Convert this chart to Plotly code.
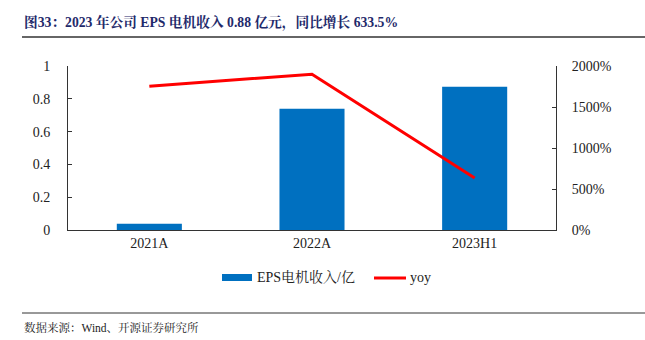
import plotly.graph_objects as go

categories = ["2021A", "2022A", "2023H1"]
revenue = [0.038, 0.74, 0.874]
yoy = [1753, 1900, 633.5]
left_ticks = [0, 0.2, 0.4, 0.6, 0.8, 1]
left_labels = ["0", "0.2", "0.4", "0.6", "0.8", "1"]
right_ticks = [0, 500, 1000, 1500, 2000]
right_labels = ["0%", "500%", "1000%", "1500%", "2000%"]

W, H = 645, 340
L, R, T, B = 68, 556, 66, 230
pw, ph = R - L, B - T

def px(x):
    return (x - L) / pw

def py(y):
    return (B - y) / ph

font = "Liberation Serif, Times New Roman, Noto Serif CJK SC, Noto Sans CJK SC, serif"
bar_color = "#0070C0"
line_color = "#FF0000"

fig = go.Figure()
fig.add_trace(go.Bar(x=categories, y=revenue, name="EPS电机收入/亿",
                     marker=dict(color=bar_color, line=dict(width=0)), width=0.40))
fig.add_trace(go.Scatter(x=categories, y=yoy, name="yoy", yaxis="y2", mode="lines",
                         line=dict(color=line_color, width=3)))

fig.update_layout(
    width=W, height=H,
    margin=dict(l=L, r=W - R, t=T, b=H - B, pad=0),
    paper_bgcolor="white", plot_bgcolor="white",
    font=dict(family=font, size=14, color="#222222"),
    showlegend=False,
    xaxis=dict(showline=True, linecolor="#333333", linewidth=1, ticks="", showgrid=False,
               tickfont=dict(size=14), zeroline=False),
    yaxis=dict(range=[0, 1], tickvals=left_ticks, ticktext=left_labels, tickfont=dict(size=14),
               showline=True, linecolor="#333333", linewidth=1, ticks="inside", ticklen=4,
               tickcolor="#333333", showgrid=False, zeroline=False, ticklabelstandoff=14),
    yaxis2=dict(range=[0, 2000], tickvals=right_ticks, ticktext=right_labels, tickfont=dict(size=14),
                overlaying="y", side="right", showline=True, linecolor="#333333", linewidth=1,
                ticks="inside", ticklen=4, tickcolor="#333333", showgrid=False, zeroline=False,
                ticklabelstandoff=12),
    shapes=[
        dict(type="line", xref="paper", yref="paper", x0=px(22), x1=px(645), y0=py(37), y1=py(37),
             line=dict(color="#333333", width=1.5)),
        dict(type="line", xref="paper", yref="paper", x0=px(22), x1=px(645), y0=py(313), y1=py(313),
             line=dict(color="#333333", width=1)),
        # legend symbols
        dict(type="rect", xref="paper", yref="paper", x0=px(222), x1=px(252), y0=py(281), y1=py(274),
             fillcolor=bar_color, line=dict(width=0)),
        dict(type="line", xref="paper", yref="paper", x0=px(374), x1=px(406), y0=py(278), y1=py(278),
             line=dict(color=line_color, width=3)),
    ],
    annotations=[
        dict(text="<b>图33：2023 年公司 EPS 电机收入 0.88 亿元，同比增长 633.5%</b>", xref="paper", yref="paper",
             x=px(22), y=py(22), xanchor="left", yanchor="middle", showarrow=False,
             font=dict(size=13.7, color="#1F2A6B", family=font)),
        dict(text="数据来源：Wind、开源证券研究所", xref="paper", yref="paper",
             x=px(22), y=py(327), xanchor="left", yanchor="middle", showarrow=False,
             font=dict(size=11.5, color="#222222", family=font)),
        dict(text="EPS电机收入/亿", xref="paper", yref="paper",
             x=px(255), y=py(277), xanchor="left", yanchor="middle", showarrow=False,
             font=dict(size=14, color="#222222", family=font)),
        dict(text="yoy", xref="paper", yref="paper",
             x=px(408), y=py(277), xanchor="left", yanchor="middle", showarrow=False,
             font=dict(size=14, color="#222222", family=font)),
    ],
)

fig.write_html("out.html")
